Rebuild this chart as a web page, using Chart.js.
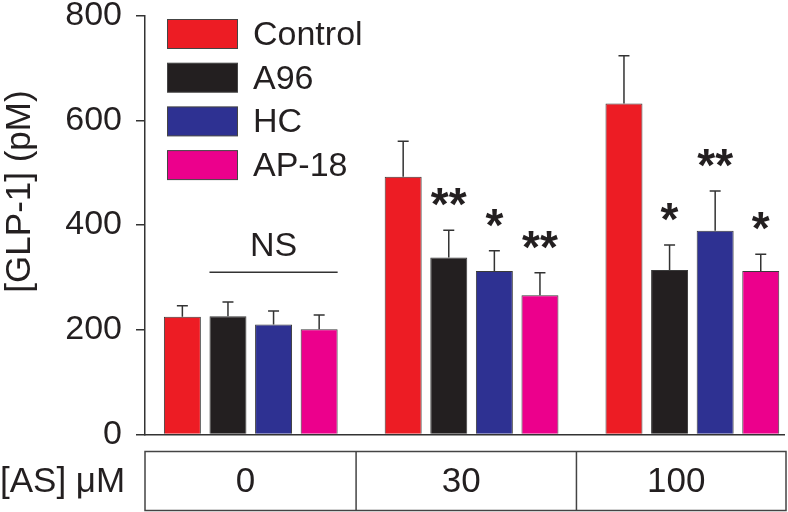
<!DOCTYPE html>
<html>
<head>
<meta charset="utf-8">
<script src="https://cdn.jsdelivr.net/npm/chart.js@4"></script>
<style>
  html, body { margin: 0; padding: 0; background: #fff; }
</style>
</head>
<body>
<canvas id="glpChart" width="788" height="512"></canvas>
<script>
const GROUPS = ['0', '30', '100'];
const SERIES = ['Control', 'A96', 'HC', 'AP-18'];
const COLORS = ['#ed1c24', '#231f20', '#2e3192', '#ec008c'];
const MEANS = [
  [225, 492, 632],
  [226, 338, 314],
  [210, 312, 389],
  [201, 266, 312]
];
const ERRORS = [
  [21, 68, 91],
  [27, 52, 48],
  [26, 39, 76],
  [27, 43, 32]
];
const STARS = [
  ['', '', ''],
  ['', '**', '*'],
  ['', '*', '**'],
  ['', '**', '*']
];
const Y_TICKS = [0, 200, 400, 600, 800];
const NS_LEVEL = 310;
const X_LABEL = '[AS] \u03bcM';
const Y_TITLE = '[GLP-1] (pM)';

const FONT = '"Liberation Sans", Arial, sans-serif';
const INK = '#231f20';
const LINE = '#333333';

const overlay = {
  id: 'overlay',
  afterDatasetsDraw(chart) {
    const ctx = chart.ctx;
    const xs = chart.scales.x;
    const ys = chart.scales.y;
    const area = chart.chartArea;

    ctx.save();
    ctx.strokeStyle = LINE;
    ctx.lineWidth = 1.5;

    // error bars (upper only) + significance stars
    SERIES.forEach((name, s) => {
      const meta = chart.getDatasetMeta(s);
      meta.data.forEach((bar, i) => {
        const yCap = ys.getPixelForValue(MEANS[s][i] + ERRORS[s][i]);
        ctx.beginPath();
        ctx.moveTo(bar.x, bar.y);
        ctx.lineTo(bar.x, yCap);
        ctx.moveTo(bar.x - 5.5, yCap);
        ctx.lineTo(bar.x + 5.5, yCap);
        ctx.stroke();

        const star = STARS[s][i];
        if (star) {
          ctx.font = 'bold 46px ' + FONT;
          ctx.fillStyle = INK;
          ctx.textAlign = 'center';
          ctx.textBaseline = 'alphabetic';
          const m = ctx.measureText(star);
          const cy = yCap - 33;
          ctx.fillText(star, bar.x, cy + (m.actualBoundingBoxAscent - m.actualBoundingBoxDescent) / 2);
        }
      });
    });

    // NS bracket over the 0 group
    const b1 = chart.getDatasetMeta(1).data[0];
    const b3 = chart.getDatasetMeta(3).data[0];
    const nsY = ys.getPixelForValue(NS_LEVEL);
    const nsL = b1.x - b1.width / 2;
    const nsR = b3.x + b3.width / 2;
    ctx.beginPath();
    ctx.moveTo(nsL, nsY);
    ctx.lineTo(nsR, nsY);
    ctx.stroke();
    ctx.font = '34px ' + FONT;
    ctx.fillStyle = INK;
    ctx.textAlign = 'center';
    ctx.textBaseline = 'middle';
    ctx.fillText('NS', (nsL + nsR) / 2, nsY - 26);

    // legend
    SERIES.forEach((name, s) => {
      const top = 19.5 + s * 43.7;
      ctx.fillStyle = COLORS[s];
      ctx.fillRect(167.5, top, 70, 29);
      ctx.lineWidth = 1;
      ctx.strokeStyle = '#444';
      ctx.strokeRect(167.5, top, 70, 29);
      ctx.fillStyle = INK;
      ctx.font = '34px ' + FONT;
      ctx.textAlign = 'left';
      ctx.textBaseline = 'middle';
      ctx.fillText(name, 253, top + 16);
    });

    // y axis title
    ctx.save();
    ctx.translate(20, 191.5);
    ctx.rotate(-Math.PI / 2);
    ctx.font = '35px ' + FONT;
    ctx.textAlign = 'center';
    ctx.textBaseline = 'middle';
    ctx.fillText(Y_TITLE, 0, 0);
    ctx.restore();

    // concentration table under the axis
    const tTop = area.bottom + 17;
    const tBot = 510.5;
    const edges = [area.left, xs.getPixelForValue(0.477), xs.getPixelForValue(1.475), 786];
    ctx.lineWidth = 1.5;
    ctx.strokeStyle = '#444';
    ctx.strokeRect(edges[0], tTop, edges[3] - edges[0], tBot - tTop);
    ctx.beginPath();
    [edges[1], edges[2]].forEach(x => {
      ctx.moveTo(x, tTop);
      ctx.lineTo(x, tBot);
    });
    ctx.stroke();
    ctx.font = '35px ' + FONT;
    ctx.fillStyle = INK;
    ctx.textBaseline = 'middle';
    ctx.textAlign = 'center';
    GROUPS.forEach((g, i) => {
      ctx.fillText(g, (edges[i] + edges[i + 1]) / 2 - 5, (tTop + tBot) / 2 + 1);
    });
    ctx.textAlign = 'left';
    ctx.fillText(X_LABEL, 0, (tTop + tBot) / 2 + 1);

    ctx.restore();
  }
};

new Chart(document.getElementById('glpChart'), {
  type: 'bar',
  data: {
    datasets: SERIES.map((name, s) => ({
      label: name,
      data: MEANS[s].map((v, i) => ({ x: i, y: v })),
      backgroundColor: COLORS[s],
      borderColor: '#3a3a3a',
      borderWidth: 1,
      categoryPercentage: 0.826,
      barPercentage: 0.811
    }))
  },
  options: {
    responsive: false,
    animation: false,
    devicePixelRatio: 1,
    layout: { padding: { top: 15.5, right: 4, bottom: 77.5, left: 0 } },
    plugins: {
      legend: { display: false },
      tooltip: { enabled: false }
    },
    scales: {
      x: {
        type: 'linear',
        offset: false,
        min: -0.479,
        max: 2.415,
        ticks: { display: false, stepSize: 1, includeBounds: false },
        grid: { display: true, offset: false, drawOnChartArea: false, drawTicks: false },
        border: { color: LINE, width: 1.5 }
      },
      y: {
        min: 0,
        max: 800,
        afterBuildTicks: s => { s.ticks = Y_TICKS.map(v => ({ value: v })); },
        afterFit: s => {
          s.width = 145;
          s.paddingTop = 0;
          s.paddingBottom = 0;
        },
        ticks: {
          color: INK,
          padding: 14,
          font: { family: FONT, size: 34 }
        },
        grid: { drawOnChartArea: false, tickLength: 9, color: LINE, lineWidth: 1.5 },
        border: { color: LINE, width: 1.5 }
      }
    }
  },
  plugins: [overlay]
});
</script>
</body>
</html>
